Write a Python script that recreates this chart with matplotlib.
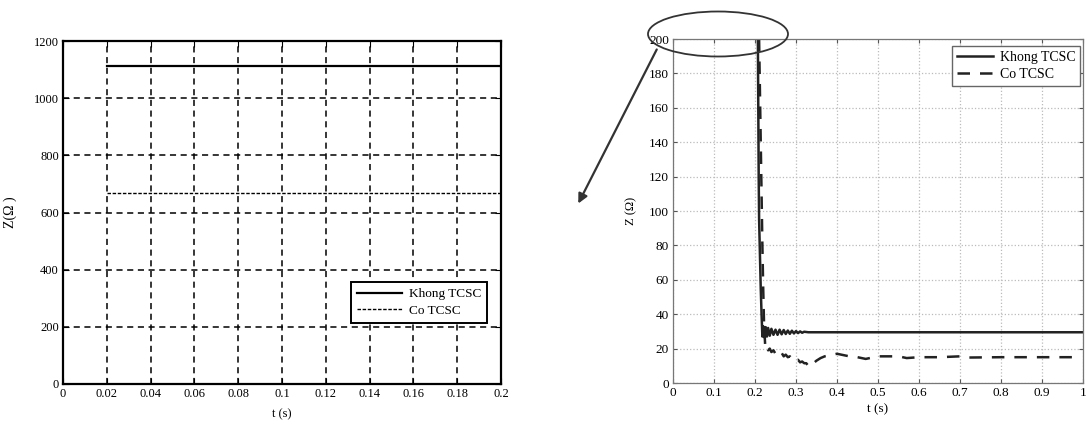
import matplotlib
matplotlib.use("Agg")
import matplotlib.pyplot as plt
from matplotlib.patches import Ellipse, FancyArrowPatch

plt.rcParams['font.family'] = ['Liberation Serif', 'DejaVu Serif']

# ---- Left chart data ----
left_t = [0.02, 0.2]
left_khong = [1112, 1112]
left_co = [668, 668]
left_xticks = [0, 0.02, 0.04, 0.06, 0.08, 0.1, 0.12, 0.14, 0.16, 0.18, 0.2]
left_xticklabels = ['0', '0.02', '0.04', '0.06', '0.08', '0.1', '0.12', '0.14', '0.16', '0.18', '0.2']
left_yticks = [0, 200, 400, 600, 800, 1000, 1200]

# ---- Right chart data ----
right_t_khong = [0.207, 0.208, 0.209, 0.210, 0.212, 0.214, 0.216, 0.218, 0.220, 0.223,
                 0.226, 0.229, 0.232, 0.236, 0.240, 0.245, 0.250, 0.255, 0.260, 0.265,
                 0.270, 0.275, 0.280, 0.285, 0.290, 0.295, 0.300, 0.305, 0.310, 0.315,
                 0.320, 0.330, 1.0]
right_khong = [200, 160, 120, 95, 75, 55, 40, 27, 33, 26.5,
               32.5, 27, 32, 27.5, 31.5, 28, 31, 28, 31, 28.3,
               30.8, 28.5, 30.5, 28.6, 30.4, 28.8, 30.2, 29, 30, 29.2,
               29.8, 29.5, 29.5]
right_t_co = [0.210, 0.212, 0.214, 0.216, 0.218, 0.220, 0.222, 0.225, 0.228, 0.232,
              0.236, 0.240, 0.245, 0.250, 0.255, 0.260, 0.265, 0.270, 0.275, 0.280,
              0.285, 0.290, 0.295, 0.300, 0.305, 0.310, 0.315, 0.320, 0.325, 0.330,
              0.335, 0.340, 0.345, 0.350, 0.360, 0.370, 0.380, 0.390, 0.400, 0.410,
              0.420, 0.430, 0.440, 0.450, 0.460, 0.470, 0.480, 0.500, 0.550, 0.570,
              0.600, 0.650, 0.700, 0.720, 0.800, 0.900, 0.980]
right_co = [200, 170, 140, 110, 80, 55, 35, 21, 22, 19,
            20, 18, 19, 17, 18, 16.5, 17.5, 15.5, 16.5, 15,
            15.5, 14, 14.5, 13, 13.5, 12, 12.5, 11.5, 11.5, 10,
            11, 10.5, 12, 13, 14.5, 15.5, 16, 16.5, 17, 16.5,
            16, 15.5, 15.5, 15, 14.5, 14, 14.5, 15.5, 15.5, 14.5,
            15, 15, 15.5, 14.8, 15, 15, 15]
right_xticks = [0, 0.1, 0.2, 0.3, 0.4, 0.5, 0.6, 0.7, 0.8, 0.9, 1]
right_xticklabels = ['0', '0.1', '0.2', '0.3', '0.4', '0.5', '0.6', '0.7', '0.8', '0.9', '1']
right_yticks = [0, 20, 40, 60, 80, 100, 120, 140, 160, 180, 200]

fig = plt.figure(figsize=(10.86, 4.24), dpi=100)

# ---------------- Left ----------------
ax1 = fig.add_axes([63/1086, 1-384/424, 438/1086, 343/424])
ax1.plot(left_t, left_khong, color='black', lw=1.6, label='Khong TCSC')
ax1.plot(left_t, left_co, color='black', lw=1.0, linestyle=(0, (2.5, 1.2)), label='Co TCSC')
ax1.set_xlim(0, 0.2)
ax1.set_ylim(0, 1200)
ax1.set_xticks(left_xticks)
ax1.set_xticklabels(left_xticklabels)
ax1.set_yticks(left_yticks)
ax1.grid(True, color='black', linestyle=(0, (4, 3)), lw=1.1)
ax1.tick_params(direction='in', length=4, labelsize=9, top=True, right=True, pad=3)
for s in ax1.spines.values():
    s.set_linewidth(1.6)
ax1.set_xlabel('t (s)', fontsize=9, labelpad=6)
ax1.set_ylabel('Z(Ω )', fontsize=10, labelpad=12)
leg1 = ax1.legend(loc='lower right', bbox_to_anchor=(0.968, 0.178), borderaxespad=0,
                  fontsize=9.5, fancybox=False, edgecolor='black', framealpha=1,
                  borderpad=0.45, handlelength=3.4, handletextpad=0.5, labelspacing=0.35)
leg1.get_frame().set_linewidth(1.4)

# ---------------- Right ----------------
ax2 = fig.add_axes([673/1086, 1-383/424, 410/1086, 344/424])
ax2.plot(right_t_khong, right_khong, color='#222222', lw=1.8, label='Khong TCSC')
ax2.plot(right_t_co, right_co, color='#222222', lw=1.8, linestyle=(0, (5, 4)), label='Co TCSC')
ax2.set_xlim(0, 1)
ax2.set_ylim(0, 200)
ax2.set_xticks(right_xticks)
ax2.set_xticklabels(right_xticklabels)
ax2.set_yticks(right_yticks)
ax2.grid(True, color='#bbbbbb', linestyle=':', lw=0.9)
ax2.tick_params(direction='in', length=3, labelsize=9.5, top=True, right=True,
                color='#555555', pad=3)
for s in ax2.spines.values():
    s.set_linewidth(0.9)
    s.set_color('#777777')
ax2.set_xlabel('t (s)', fontsize=9.5, labelpad=3)
ax2.set_ylabel('Z (Ω)', fontsize=9, labelpad=8)
leg2 = ax2.legend(loc='upper right', bbox_to_anchor=(0.993, 0.98), borderaxespad=0,
                  fontsize=10, fancybox=False, edgecolor='#666666', framealpha=1,
                  borderpad=0.35, handlelength=2.6, handletextpad=0.5, labelspacing=0.3)
leg2.get_frame().set_linewidth(1.0)

# Annotation ellipse and arrow
ell = Ellipse((718/1086, 1-34/424), 140/1086, 45/424, transform=fig.transFigure,
              fill=False, edgecolor='#333333', lw=1.3)
fig.add_artist(ell)
arr = FancyArrowPatch((658/1086, 1-47/424), (577/1086, 1-206/424),
                      transform=fig.transFigure, arrowstyle='-|>', mutation_scale=14,
                      color='#333333', lw=1.6)
fig.add_artist(arr)

fig.savefig('out.png', dpi=100)
